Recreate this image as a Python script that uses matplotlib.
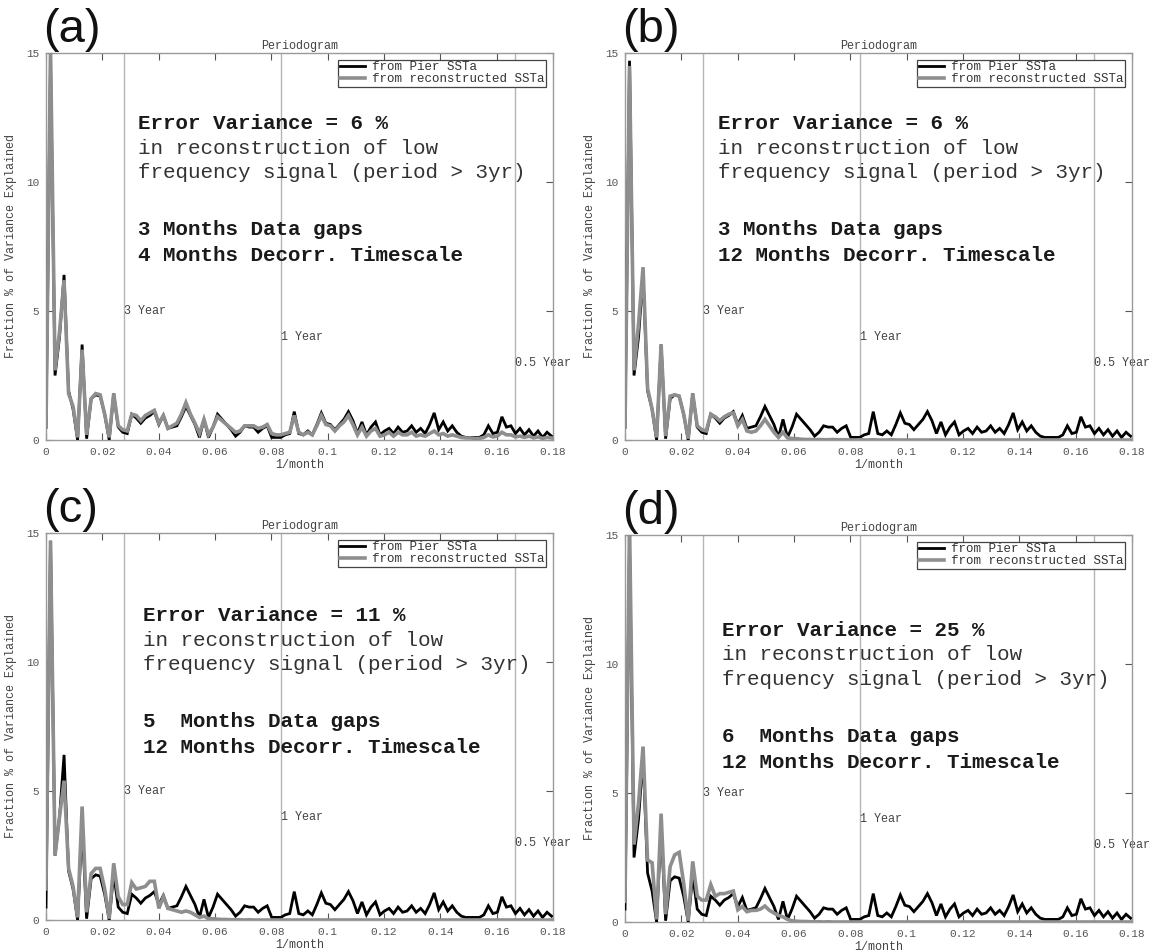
import numpy as np
import matplotlib
matplotlib.use("Agg")
import matplotlib.pyplot as plt

# Periodogram of monthly SST anomalies (fraction % of variance per frequency bin)
n_months = 624

pier_ssta = [
    0.5,
    14.7, 2.5, 4.0, 6.4, 1.9, 1.2, 0.0, 3.7, 0.05, 1.6, 1.75, 1.7, 1.0, 0.0, 1.8, 0.5, 0.3, 0.25,
    1.0, 0.85, 0.65, 0.85, 0.95, 1.1, 0.6, 0.95, 0.45, 0.5, 0.55, 0.9,
    1.3, 0.95, 0.6, 0.1, 0.8, 0.1, 0.5, 1.0, 0.8, 0.6,
    0.4, 0.15, 0.3, 0.55, 0.5, 0.5, 0.3, 0.45, 0.55, 0.1,
    0.1, 0.1, 0.2, 0.25, 1.1, 0.25, 0.2, 0.35, 0.2, 0.6,
    1.05, 0.65, 0.6, 0.4, 0.6, 0.8, 1.1, 0.75, 0.25, 0.7,
    0.2, 0.5, 0.7, 0.2, 0.35, 0.45, 0.25, 0.5, 0.3, 0.35,
    0.55, 0.3, 0.45, 0.25, 0.6, 1.05, 0.4, 0.7, 0.35, 0.55,
    0.3, 0.15, 0.1, 0.1, 0.1, 0.1, 0.2, 0.55, 0.25, 0.3,
    0.9, 0.5, 0.55, 0.25, 0.45, 0.2, 0.4, 0.15, 0.35, 0.1, 0.3, 0.15,
]

recon_a = [
    0.5,
    15.2, 2.7, 4.2, 6.2, 1.8, 1.3, 0.1, 3.5, 0.2, 1.6, 1.8, 1.75, 1.0, 0.1, 1.8, 0.55, 0.4, 0.35,
    1.0, 0.95, 0.75, 0.95, 1.05, 1.15, 0.65, 0.95, 0.45, 0.55, 0.65, 1.0,
    1.45, 1.0, 0.65, 0.25, 0.8, 0.2, 0.5, 0.9, 0.75, 0.6,
    0.45, 0.3, 0.35, 0.55, 0.55, 0.55, 0.45, 0.5, 0.6, 0.25,
    0.2, 0.2, 0.25, 0.3, 0.95, 0.3, 0.2, 0.3, 0.2, 0.55,
    0.95, 0.6, 0.55, 0.35, 0.55, 0.7, 0.95, 0.6, 0.2, 0.5,
    0.15, 0.35, 0.45, 0.15, 0.2, 0.3, 0.15, 0.3, 0.2, 0.2,
    0.3, 0.15, 0.2, 0.15, 0.25, 0.35, 0.2, 0.25, 0.15, 0.2,
    0.15, 0.1, 0.08, 0.08, 0.06, 0.06, 0.1, 0.2, 0.12, 0.15,
    0.3, 0.2, 0.2, 0.12, 0.15, 0.1, 0.15, 0.08, 0.12, 0.06, 0.1, 0.08,
]

recon_b = [
    0.5,
    14.5, 2.7, 4.5, 6.7, 2.0, 1.2, 0.1, 3.7, 0.15, 1.7, 1.75, 1.7, 1.0, 0.05, 1.8, 0.55, 0.4, 0.35,
    1.0, 0.9, 0.75, 0.9, 1.0, 1.05, 0.55, 0.8, 0.35, 0.3, 0.35, 0.55,
    0.8, 0.55, 0.3, 0.1, 0.3, 0.08, 0.06, 0.05, 0.03, 0.02,
    0.02, 0.01, 0.02, 0.01, 0.01, 0.02, 0.01, 0.01, 0.01, 0.0,
    0.0, 0.01, 0.0, 0.0, 0.01, 0.0, 0.0, 0.0, 0.01, 0.0,
    0.0, 0.0, 0.0, 0.0, 0.0, 0.0, 0.0, 0.0, 0.0, 0.0,
    0.0, 0.0, 0.0, 0.0, 0.0, 0.0, 0.0, 0.0, 0.0, 0.0,
    0.0, 0.0, 0.0, 0.0, 0.0, 0.0, 0.0, 0.0, 0.0, 0.0,
    0.0, 0.0, 0.0, 0.0, 0.0, 0.0, 0.0, 0.0, 0.0, 0.0,
    0.0, 0.0, 0.0, 0.0, 0.0, 0.0, 0.0, 0.0, 0.0, 0.0, 0.0, 0.0,
]

recon_c = [
    1.2,
    14.7, 2.5, 4.0, 5.4, 2.0, 1.3, 0.1, 4.4, 0.3, 1.8, 2.0, 2.0, 1.2, 0.05, 2.2, 0.9, 0.6, 0.6,
    1.45, 1.2, 1.25, 1.3, 1.5, 1.5, 0.45, 0.9, 0.45, 0.4, 0.35, 0.3,
    0.35, 0.3, 0.2, 0.1, 0.15, 0.05, 0.05, 0.03, 0.02, 0.02,
    0.01, 0.01, 0.01, 0.0, 0.01, 0.0, 0.0, 0.0, 0.0, 0.0,
    0.0, 0.0, 0.0, 0.0, 0.0, 0.0, 0.0, 0.0, 0.0, 0.0,
    0.0, 0.0, 0.0, 0.0, 0.0, 0.0, 0.0, 0.0, 0.0, 0.0,
    0.0, 0.0, 0.0, 0.0, 0.0, 0.0, 0.0, 0.0, 0.0, 0.0,
    0.0, 0.0, 0.0, 0.0, 0.0, 0.0, 0.0, 0.0, 0.0, 0.0,
    0.0, 0.0, 0.0, 0.0, 0.0, 0.0, 0.0, 0.0, 0.0, 0.0,
    0.0, 0.0, 0.0, 0.0, 0.0, 0.0, 0.0, 0.0, 0.0, 0.0, 0.0, 0.0,
]

recon_d = [
    0.8,
    15.5, 3.0, 4.6, 6.8, 2.4, 2.3, 0.1, 4.2, 0.3, 2.15, 2.6, 2.7, 1.5, 0.05, 2.35, 1.0, 0.85, 0.85,
    1.45, 1.0, 1.1, 1.1, 1.15, 1.2, 0.47, 0.6, 0.4, 0.45, 0.45, 0.5,
    0.62, 0.45, 0.35, 0.25, 0.2, 0.1, 0.05, 0.03, 0.02, 0.02,
    0.01, 0.01, 0.01, 0.0, 0.01, 0.0, 0.0, 0.0, 0.0, 0.0,
    0.0, 0.0, 0.0, 0.0, 0.0, 0.0, 0.0, 0.0, 0.0, 0.0,
    0.0, 0.0, 0.0, 0.0, 0.0, 0.0, 0.0, 0.0, 0.0, 0.0,
    0.0, 0.0, 0.0, 0.0, 0.0, 0.0, 0.0, 0.0, 0.0, 0.0,
    0.0, 0.0, 0.0, 0.0, 0.0, 0.0, 0.0, 0.0, 0.0, 0.0,
    0.0, 0.0, 0.0, 0.0, 0.0, 0.0, 0.0, 0.0, 0.0, 0.0,
    0.0, 0.0, 0.0, 0.0, 0.0, 0.0, 0.0, 0.0, 0.0, 0.0, 0.0, 0.0,
]

panel_letters = ["(a)", "(b)", "(c)", "(d)"]
error_variance = [6, 6, 11, 25]
gap_labels = ["3 Months Data gaps", "3 Months Data gaps",
              "5  Months Data gaps", "6  Months Data gaps"]
decorr_labels = ["4 Months Decorr. Timescale", "12 Months Decorr. Timescale",
                 "12 Months Decorr. Timescale", "12 Months Decorr. Timescale"]
recon_series = [recon_a, recon_b, recon_c, recon_d]

# annotation placement per panel (x in 1/month, top line y in %)
text_x = [0.0327, 0.033, 0.0344, 0.0343]
text_top = [12.25, 12.25, 11.8, 11.3]

period_lines = [1 / 36, 1 / 12, 1 / 6]
period_names = ["3 Year", "1 Year", "0.5 Year"]
period_label_y = [5, 4, 3]

xticks = [0, 0.02, 0.04, 0.06, 0.08, 0.1, 0.12, 0.14, 0.16, 0.18]
xticklabels = ["0", "0.02", "0.04", "0.06", "0.08", "0.1", "0.12", "0.14", "0.16", "0.18"]
yticks = [0, 5, 10, 15]

MONO = ["Liberation Mono", "DejaVu Sans Mono"]
SANS = ["Liberation Sans", "DejaVu Sans"]

freq = np.arange(len(pier_ssta)) / n_months

fig = plt.figure(figsize=(11.55, 9.51), dpi=100)
W, H = 1155, 951
# axes boxes in pixels: left, top, right, bottom
boxes = [(46, 53, 553, 440), (625, 53, 1132, 440),
         (46, 533, 553, 920), (625, 535, 1132, 922)]

spine_col = "#9a9a9a"
tick_col = "#555555"
small = 8.5

for i, (l, t, r, b) in enumerate(boxes):
    ax = fig.add_axes([l / W, 1 - b / H, (r - l) / W, (b - t) / H])
    ax.set_xlim(0, 0.18)
    ax.set_ylim(0, 15)

    for xv in period_lines:
        ax.axvline(xv, color="#b5b5b5", lw=1.0, zorder=1)
    for xv, name, yv in zip(period_lines, period_names, period_label_y):
        ax.text(xv, yv, name, fontsize=small, family=MONO, color="#444444",
                ha="left", va="center", clip_on=False, zorder=2)

    ax.plot(freq, pier_ssta, color="black", lw=2.0, zorder=3,
            label="from Pier SSTa", solid_joinstyle="miter")
    ax.plot(freq, recon_series[i], color="#8e8e8e", lw=2.6, zorder=4,
            label="from reconstructed SSTa", solid_joinstyle="miter")

    ax.set_xticks(xticks)
    ax.set_xticklabels(xticklabels)
    ax.set_yticks(yticks)
    ax.set_yticklabels([str(v) for v in yticks])
    ax.tick_params(direction="in", length=5, width=0.8, color="#555555",
                   labelsize=8, labelcolor=tick_col, top=True, right=True,
                   pad=5)
    for lab in ax.get_xticklabels() + ax.get_yticklabels():
        lab.set_family(MONO)
    for sp in ax.spines.values():
        sp.set_color(spine_col)
        sp.set_linewidth(1.0)

    ax.set_title("Periodogram", fontsize=small, family=MONO, color="#444444", pad=3)
    ax.set_xlabel("1/month", fontsize=small, family=MONO, color="#444444")
    ax.xaxis.set_label_coords(0.5, -0.05)
    ax.set_ylabel("Fraction % of Variance Explained", fontsize=small,
                  family=MONO, color="#444444")
    ax.yaxis.set_label_coords(-0.058, 0.5)

    leg = ax.legend(loc="upper right", bbox_to_anchor=(0.987, 0.983),
                    borderaxespad=0, fancybox=False, framealpha=1,
                    edgecolor="#444444", prop={"family": MONO, "size": 9},
                    labelspacing=0.0, borderpad=0.15, handlelength=2.0,
                    handletextpad=0.6)
    leg.get_frame().set_linewidth(0.9)
    for txt in leg.get_texts():
        txt.set_color("#333333")

    tx = text_x[i]
    y0 = text_top[i]
    ax.text(tx, y0, f"Error Variance = {error_variance[i]} %", fontsize=15,
            family=MONO, weight="bold", color="#1a1a1a", va="center", ha="left")
    ax.text(tx, y0 - 0.95, "in reconstruction of low", fontsize=15,
            family=MONO, color="#333333", va="center", ha="left")
    ax.text(tx, y0 - 1.9, "frequency signal (period > 3yr)", fontsize=15,
            family=MONO, color="#333333", va="center", ha="left")
    ax.text(tx, y0 - 4.1, gap_labels[i], fontsize=15,
            family=MONO, weight="bold", color="#1a1a1a", va="center", ha="left")
    ax.text(tx, y0 - 5.1, decorr_labels[i], fontsize=15,
            family=MONO, weight="bold", color="#1a1a1a", va="center", ha="left")

    fig.text((l - 3) / W, 1 - (t - 1) / H, panel_letters[i], fontsize=34,
             family=SANS, color="#111111", ha="left", va="bottom")

fig.savefig("out.png", dpi=100)
